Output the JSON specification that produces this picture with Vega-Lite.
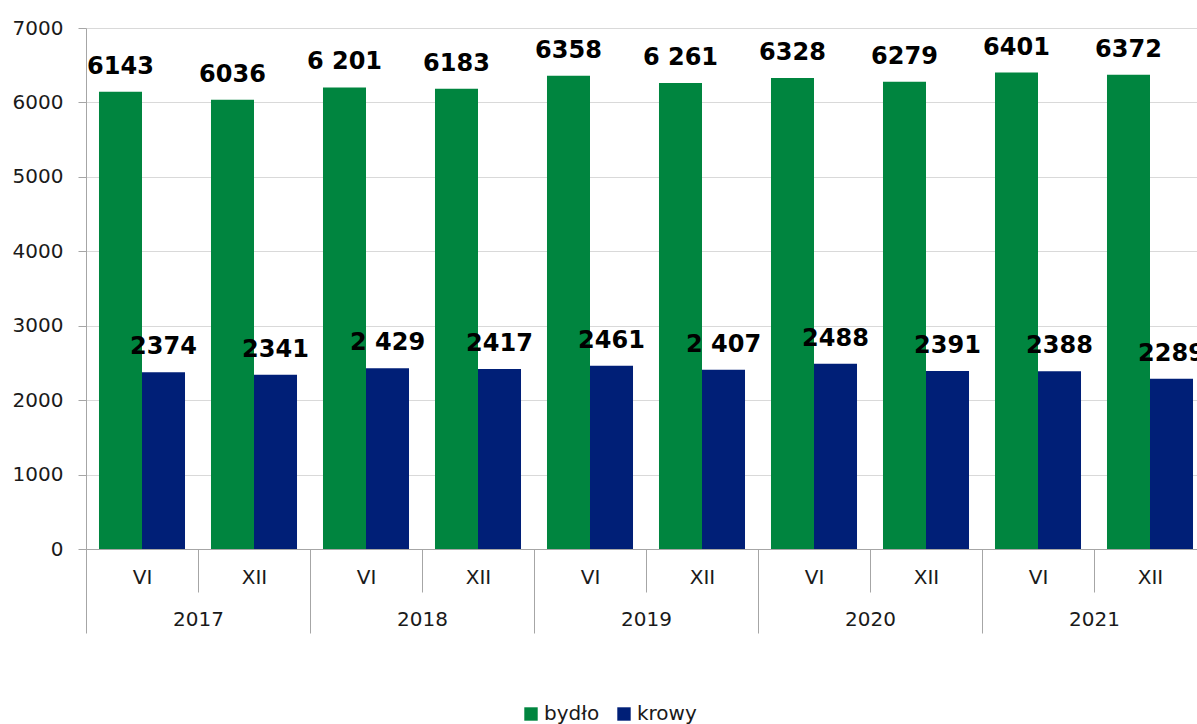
{
  "$schema": "https://vega.github.io/schema/vega-lite/v6.json",
  "autosize": "none",
  "padding": {"left": 86, "top": 28, "right": 0, "bottom": 175},
  "width": 1120,
  "height": 521,
  "config": {
    "view": {"stroke": null},
    "font": "DejaVu Sans",
    "axis": {"labelFont": "DejaVu Sans", "labelColor": "#1a1a1a", "domainColor": "#a6a6a6", "tickColor": "#a6a6a6", "gridColor": "#d9d9d9"}
  },
  "data": {
    "values": [
      {"year": "2017", "slot": "2017 VI", "series": "bydło", "value": 6143, "label": "6143"},
      {"year": "2017", "slot": "2017 VI", "series": "krowy", "value": 2374, "label": "2374"},
      {"year": "2017", "slot": "2017 XII", "series": "bydło", "value": 6036, "label": "6036"},
      {"year": "2017", "slot": "2017 XII", "series": "krowy", "value": 2341, "label": "2341"},
      {"year": "2018", "slot": "2018 VI", "series": "bydło", "value": 6201, "label": "6 201"},
      {"year": "2018", "slot": "2018 VI", "series": "krowy", "value": 2429, "label": "2 429"},
      {"year": "2018", "slot": "2018 XII", "series": "bydło", "value": 6183, "label": "6183"},
      {"year": "2018", "slot": "2018 XII", "series": "krowy", "value": 2417, "label": "2417"},
      {"year": "2019", "slot": "2019 VI", "series": "bydło", "value": 6358, "label": "6358"},
      {"year": "2019", "slot": "2019 VI", "series": "krowy", "value": 2461, "label": "2461"},
      {"year": "2019", "slot": "2019 XII", "series": "bydło", "value": 6261, "label": "6 261"},
      {"year": "2019", "slot": "2019 XII", "series": "krowy", "value": 2407, "label": "2 407"},
      {"year": "2020", "slot": "2020 VI", "series": "bydło", "value": 6328, "label": "6328"},
      {"year": "2020", "slot": "2020 VI", "series": "krowy", "value": 2488, "label": "2488"},
      {"year": "2020", "slot": "2020 XII", "series": "bydło", "value": 6279, "label": "6279"},
      {"year": "2020", "slot": "2020 XII", "series": "krowy", "value": 2391, "label": "2391"},
      {"year": "2021", "slot": "2021 VI", "series": "bydło", "value": 6401, "label": "6401"},
      {"year": "2021", "slot": "2021 VI", "series": "krowy", "value": 2388, "label": "2388"},
      {"year": "2021", "slot": "2021 XII", "series": "bydło", "value": 6372, "label": "6372"},
      {"year": "2021", "slot": "2021 XII", "series": "krowy", "value": 2289, "label": "2289"}
    ]
  },
  "layer": [
    {
      "layer": [
        {
          "mark": {"type": "bar"},
          "encoding": {
            "x": {"field": "slot", "type": "nominal", "sort": null,
              "scale": {"paddingInner": 0, "paddingOuter": 0},
              "axis": {"title": null, "labelExpr": "split(datum.value, ' ')[1]", "labelAngle": 0, "labelFontSize": 20, "tickBand": "extent", "tickSize": 43, "labelPadding": -25, "grid": false}},
            "xOffset": {"field": "series", "type": "nominal", "sort": ["bydło", "krowy"],
              "scale": {"paddingInner": 0, "paddingOuter": 0.302}},
            "y": {"field": "value", "type": "quantitative",
              "scale": {"domain": [0, 7000], "nice": false},
              "axis": {"title": null, "values": [0, 1000, 2000, 3000, 4000, 5000, 6000, 7000], "labelFontSize": 20, "tickSize": 8, "labelPadding": 15, "grid": true, "format": "d"}},
            "color": {"field": "series", "type": "nominal",
              "scale": {"domain": ["bydło", "krowy"], "range": ["#00853f", "#001f77"]},
              "legend": {"title": null, "orient": "none", "direction": "horizontal", "legendX": 435, "legendY": 676, "symbolType": "square", "symbolSize": 180, "symbolStrokeWidth": 0, "symbolOpacity": 1, "labelFontSize": 20, "labelFont": "DejaVu Sans", "labelColor": "#1a1a1a", "columnPadding": 14, "labelOffset": 3}}
          }
        },
        {
          "mark": {"type": "text", "fontSize": 24, "fontWeight": "bold", "baseline": "middle", "dy": -25, "color": "#000000"},
          "encoding": {
            "x": {"field": "slot", "type": "nominal", "sort": null},
            "xOffset": {"field": "series", "type": "nominal", "sort": ["bydło", "krowy"]},
            "y": {"field": "value", "type": "quantitative"},
            "text": {"field": "label"}
          }
        }
      ]
    },
    {
      "mark": {"type": "bar", "opacity": 0},
      "encoding": {
        "x": {"field": "year", "type": "nominal", "sort": null,
          "scale": {"paddingInner": 0, "paddingOuter": 0},
          "axis": {"title": null, "orient": "bottom", "labelAngle": 0, "labelFontSize": 20, "tickBand": "extent", "tickSize": 84, "labelPadding": -24, "domain": false, "grid": false}},
        "y": {"field": "value", "type": "quantitative"}
      }
    }
  ],
  "resolve": {"scale": {"x": "independent"}, "axis": {"x": "independent"}}
}
